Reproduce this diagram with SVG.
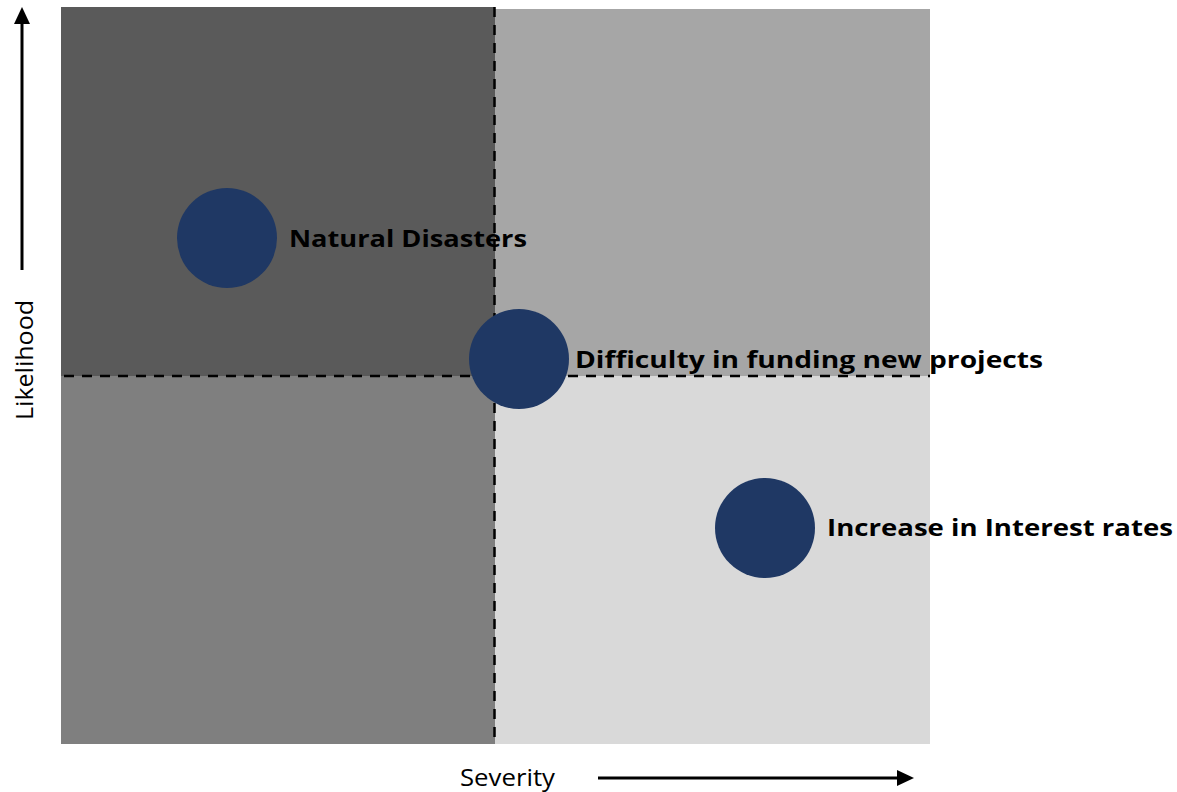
<svg xmlns="http://www.w3.org/2000/svg" width="1177" height="792" viewBox="0 0 1177 792">
  <style>
    .axis { stroke: #000; stroke-width: 3; fill: none; }
    .head { fill: #000; }
    .divider { stroke: #000; stroke-width: 2.5; stroke-dasharray: 10 8; fill: none; }
    .risk { fill: #1f3864; }
    .label { font-family: "Open Sans", "Liberation Sans", sans-serif; font-weight: 700; font-size: 23px; fill: #000; }
    .axis-title { font-family: "Open Sans", "Liberation Sans", sans-serif; font-size: 23px; fill: #000; }
  </style>

  <!-- quadrants -->
  <g id="quadrants">
    <rect x="61" y="7" width="434" height="369" fill="#5a5a5a"/>
    <rect x="495" y="9" width="435" height="367" fill="#a6a6a6"/>
    <rect x="61" y="376" width="434" height="368" fill="#7f7f7f"/>
    <rect x="495" y="376" width="435" height="368" fill="#d9d9d9"/>
  </g>

  <!-- connectors: dividers and axes -->
  <g id="connectors">
    <line class="divider" x1="494.5" y1="7" x2="494.5" y2="744"/>
    <line class="divider" x1="64" y1="376" x2="930" y2="376"/>
    <line class="axis" x1="22" y1="270" x2="22" y2="22"/>
    <polygon class="head" points="22,7 30,24 14,24"/>
    <line class="axis" x1="598" y1="778" x2="899" y2="778"/>
    <polygon class="head" points="914,778 897,770 897,786"/>
  </g>

  <g id="axis-likelihood">
    <text class="axis-title" transform="translate(33,360) rotate(-90)" text-anchor="middle" textLength="120" lengthAdjust="spacingAndGlyphs">Likelihood</text>
  </g>
  <g id="axis-severity">
    <text class="axis-title" x="507.5" y="786" text-anchor="middle" textLength="95" lengthAdjust="spacingAndGlyphs">Severity</text>
  </g>

  <g id="risk-natural-disasters">
    <circle class="risk" cx="227" cy="238" r="50"/>
    <text class="label" x="289" y="247" textLength="238" lengthAdjust="spacingAndGlyphs">Natural Disasters</text>
  </g>
  <g id="risk-funding">
    <circle class="risk" cx="519" cy="359" r="50"/>
    <text class="label" x="575" y="368" textLength="468" lengthAdjust="spacingAndGlyphs">Difficulty in funding new projects</text>
  </g>
  <g id="risk-interest-rates">
    <circle class="risk" cx="765" cy="528" r="50"/>
    <text class="label" x="827" y="536" textLength="346" lengthAdjust="spacingAndGlyphs">Increase in Interest rates</text>
  </g>
</svg>
